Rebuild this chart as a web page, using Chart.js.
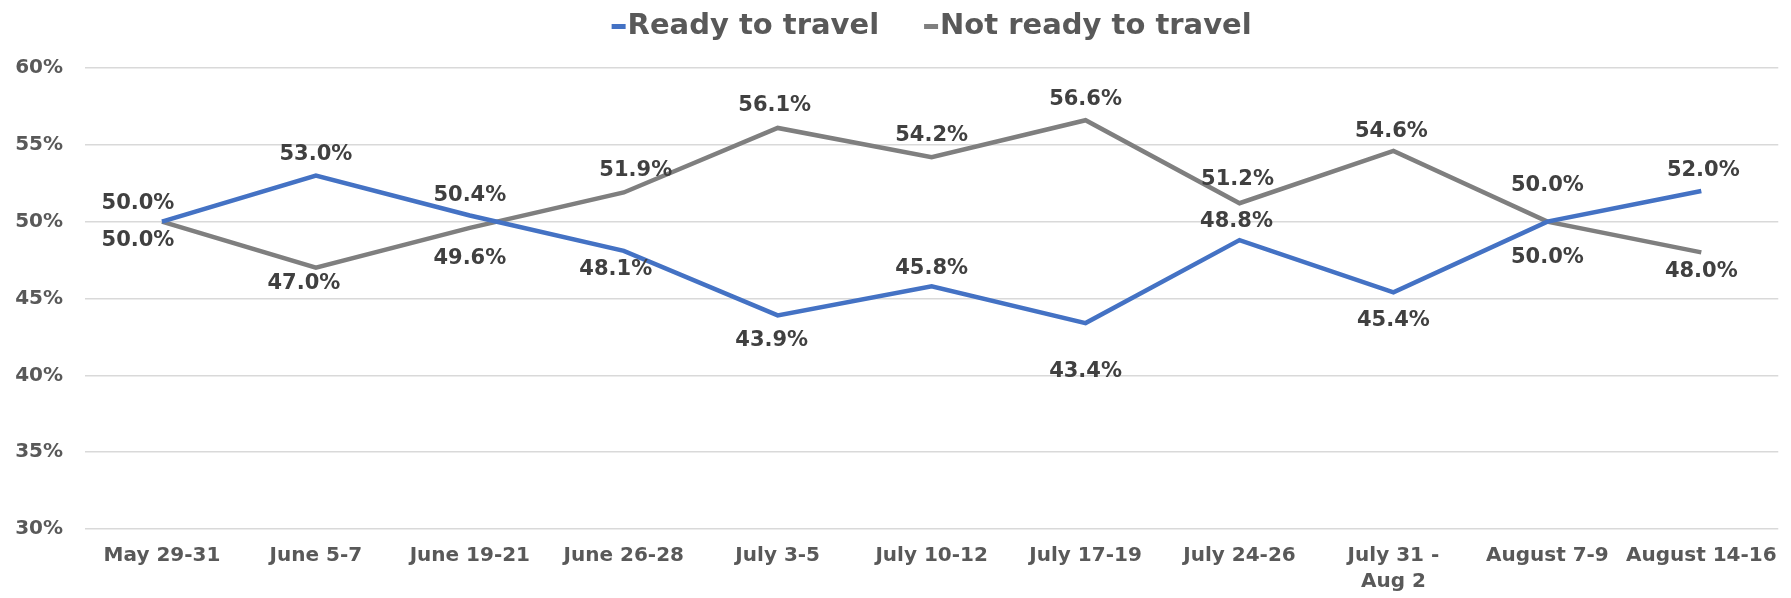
<!DOCTYPE html>
<html>
<head>
<meta charset="utf-8">
<script src="https://cdn.jsdelivr.net/npm/chart.js@4.4.1/dist/chart.umd.min.js"></script>
<style>
  html, body { margin: 0; padding: 0; background: #ffffff; }
  #box { width: 1791px; height: 598px; }
</style>
</head>
<body>
<div id="box"><canvas id="myChart"></canvas></div>
<script>
"use strict";

const categorie = ['May 29-31', 'June 5-7', 'June 19-21', 'June 26-28', 'July 3-5', 'July 10-12',
  'July 17-19', 'July 24-26', ['July 31 -', 'Aug 2'], 'August 7-9', 'August 14-16'];
const readyToTravel = [50.0, 53.0, 50.4, 48.1, 43.9, 45.8, 43.4, 48.8, 45.4, 50.0, 52.0];
const notReadyToTravel = [50.0, 47.0, 49.6, 51.9, 56.1, 54.2, 56.6, 51.2, 54.6, 50.0, 48.0];
const yTicks = [30, 35, 40, 45, 50, 55, 60];

// spostamento delle etichette rispetto al punto [dx, dy]
const posReady = [[-24, -18], [0, -21], [0, -20], [-8, 19], [-6, 25], [0, -18], [0, 48], [-3, -19], [0, 28], [0, 36], [2, -20]];
const posNotReady = [[-24, 19], [-12, 16], [0, 31], [12, -22], [-3, -22], [0, -22], [0, -21], [-2, -24], [-2, -19], [0, -36], [0, 19]];

const BLU = '#4472C4';
const GRIGIO = '#7F7F7F';
const FONT = '"DejaVu Sans", sans-serif';

const etichetteDati = {
  id: 'etichetteDati',
  afterDatasetsDraw(chart) {
    const ctx = chart.ctx;
    ctx.save();
    ctx.font = 'bold 21px ' + FONT;
    ctx.fillStyle = '#404040';
    ctx.textAlign = 'center';
    ctx.textBaseline = 'middle';
    chart.data.datasets.forEach((ds, i) => {
      const meta = chart.getDatasetMeta(i);
      meta.data.forEach((pt, j) => {
        const off = ds.posEtichette[j];
        ctx.fillText(ds.data[j].toFixed(1) + '%', pt.x + off[0], pt.y + off[1]);
      });
    });
    ctx.restore();
  }
};

const legenda = {
  id: 'legenda',
  afterDraw(chart) {
    const ctx = chart.ctx;
    const area = chart.chartArea;
    ctx.save();
    ctx.font = 'bold 29px ' + FONT;
    ctx.textBaseline = 'middle';
    const gap = 45;
    const dash = 14;
    const voci = chart.data.datasets.map(ds => ({ testo: ds.label, colore: ds.borderColor }));
    const larghezze = voci.map(v => dash + 2 + ctx.measureText(v.testo).width);
    const tot = larghezze.reduce((a, b) => a + b, 0) + gap * (voci.length - 1);
    let x = (area.left + area.right) / 2 - tot / 2;
    const y = 26;
    voci.forEach((v, k) => {
      ctx.fillStyle = v.colore;
      ctx.fillRect(x, y - 2, dash, 5);
      ctx.fillStyle = '#595959';
      ctx.fillText(v.testo, x + dash + 2, y);
      x += larghezze[k] + gap;
    });
    ctx.restore();
  }
};

const ctx = document.getElementById('myChart');

new Chart(ctx, {
  type: 'line',
  data: {
    labels: categorie,
    datasets: [{
      label: 'Ready to travel',
      data: readyToTravel,
      borderColor: BLU,
      backgroundColor: BLU,
      borderWidth: 4.5,
      pointRadius: 0,
      tension: 0,
      posEtichette: posReady
    }, {
      label: 'Not ready to travel',
      data: notReadyToTravel,
      borderColor: GRIGIO,
      backgroundColor: GRIGIO,
      borderWidth: 4.5,
      pointRadius: 0,
      tension: 0,
      posEtichette: posNotReady
    }]
  },
  options: {
    responsive: true,
    maintainAspectRatio: false,
    animation: false,
    layout: { padding: { top: 68, left: 0, right: 8, bottom: 0 } },
    plugins: {
      legend: { display: false },
      tooltip: { enabled: false }
    },
    scales: {
      x: {
        offset: true,
        grid: { display: false, drawTicks: false },
        border: { display: false },
        ticks: {
          autoSkip: false,
          maxRotation: 0,
          padding: 14,
          color: '#595959',
          font: { family: FONT, size: 20, weight: 'bold', lineHeight: 1.3 }
        },
        afterFit(scale) { scale.height = 69; }
      },
      y: {
        min: 30,
        max: 60,
        afterBuildTicks(scale) { scale.ticks = yTicks.map(v => ({ value: v })); },
        grid: { color: '#D9D9D9', lineWidth: 1.5, drawTicks: false },
        border: { display: false },
        ticks: {
          padding: 22,
          color: '#595959',
          font: { family: FONT, size: 20, weight: 'bold' },
          callback: v => v + '%'
        },
        afterFit(scale) { scale.width = 85; }
      }
    }
  },
  plugins: [etichetteDati, legenda]
});
</script>
</body>
</html>
